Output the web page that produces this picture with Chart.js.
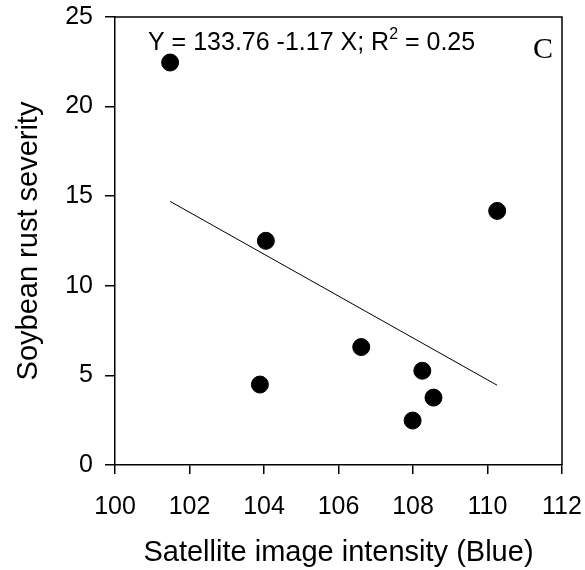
<!DOCTYPE html>
<html>
<head>
<meta charset="utf-8">
<script src="https://cdn.jsdelivr.net/npm/chart.js@4/dist/chart.umd.min.js"></script>
<style>
  html, body { margin: 0; padding: 0; background: #fff; }
  #wrap { width: 585px; height: 570px; }
</style>
</head>
<body>
<div id="wrap"><canvas id="myChart" width="585" height="570"></canvas></div>
<script>
// observed points
var intensity = [101.48, 104.05, 103.89, 106.61, 108.25, 108.55, 107.99, 110.26];
var severity = [22.46, 12.51, 4.49, 6.58, 5.26, 3.76, 2.48, 14.18];
// fitted line ends
var fitX = [101.48, 110.26];
var fitY = [14.71, 4.45];
// axis ticks
var xTicks = [100, 102, 104, 106, 108, 110, 112];
var yTicks = [0, 5, 10, 15, 20, 25];

var equation = "Y = 133.76 -1.17 X; R";
var eqEnd = " = 0.25";
var panel = "C";

function pairs(xs, ys){
    var out = [];
    for(var i = 0; i < xs.length; i++){
        out.push({x: xs[i], y: ys[i]});
    }
    return out;
}

// box around plot + text in the corner
var boxPlugin = {
    id: "boxText",
    afterDraw: function(chart){
        var ctx = chart.ctx;
        var a = chart.chartArea;
        ctx.save();
        ctx.strokeStyle = "#000";
        ctx.lineWidth = 1.5;
        ctx.beginPath();
        ctx.moveTo(a.left, a.top);
        ctx.lineTo(a.right, a.top);
        ctx.lineTo(a.right, a.bottom);
        ctx.stroke();

        ctx.fillStyle = "#000";
        ctx.textBaseline = "alphabetic";
        ctx.font = "25px 'Liberation Sans', Arial, sans-serif";
        var x = a.left + 33;
        var y = a.top + 33;
        ctx.fillText(equation, x, y);
        x += ctx.measureText(equation).width;
        ctx.font = "16px 'Liberation Sans', Arial, sans-serif";
        ctx.fillText("2", x, y - 11);
        x += ctx.measureText("2").width;
        ctx.font = "25px 'Liberation Sans', Arial, sans-serif";
        ctx.fillText(eqEnd, x, y);

        ctx.font = "30px 'Liberation Serif', 'Times New Roman', serif";
        ctx.fillText(panel, a.right - 29, a.top + 41);
        ctx.restore();
    }
};

var ctx = document.getElementById("myChart").getContext("2d");
var myChart = new Chart(ctx, {
    type: "scatter",
    data: {
        datasets: [{
            data: pairs(intensity, severity),
            backgroundColor: "#000",
            borderColor: "#000",
            pointRadius: 8.5,
            pointHoverRadius: 8.5
        }, {
            type: "line",
            data: pairs(fitX, fitY),
            borderColor: "#000",
            borderWidth: 1,
            pointRadius: 0,
            fill: false
        }]
    },
    options: {
        responsive: false,
        animation: false,
        layout: {
            padding: {top: 17, right: 23, left: 12, bottom: 0}
        },
        plugins: {
            legend: {display: false},
            tooltip: {enabled: false}
        },
        scales: {
            x: {
                type: "linear",
                min: 100,
                max: 112,
                afterBuildTicks: function(scale){
                    scale.ticks = xTicks.map(function(v){ return {value: v}; });
                },
                afterFit: function(scale){
                    scale.height = 105;
                    scale.paddingLeft = 0;
                    scale.paddingRight = 0;
                },
                grid: {
                    display: true,
                    drawOnChartArea: false,
                    drawTicks: true,
                    tickLength: 9,
                    color: "#000",
                    lineWidth: 1.5
                },
                border: {display: true, color: "#000", width: 1.5},
                ticks: {
                    color: "#000",
                    padding: 18,
                    font: {family: "'Liberation Sans', Arial, sans-serif", size: 25}
                },
                title: {
                    display: true,
                    text: "Satellite image intensity (Blue)",
                    color: "#000",
                    padding: 0,
                    font: {family: "'Liberation Sans', Arial, sans-serif", size: 29}
                }
            },
            y: {
                type: "linear",
                min: 0,
                max: 25,
                afterBuildTicks: function(scale){
                    scale.ticks = yTicks.map(function(v){ return {value: v}; });
                },
                afterFit: function(scale){
                    scale.width = 103;
                    scale.paddingTop = 0;
                    scale.paddingBottom = 0;
                },
                grid: {
                    display: true,
                    drawOnChartArea: false,
                    drawTicks: true,
                    tickLength: 10,
                    color: "#000",
                    lineWidth: 1.5
                },
                border: {display: true, color: "#000", width: 1.5},
                ticks: {
                    color: "#000",
                    padding: 12,
                    font: {family: "'Liberation Sans', Arial, sans-serif", size: 25}
                },
                title: {
                    display: true,
                    text: "Soybean rust severity",
                    color: "#000",
                    padding: 0,
                    font: {family: "'Liberation Sans', Arial, sans-serif", size: 29}
                }
            }
        }
    },
    plugins: [boxPlugin]
});
</script>
</body>
</html>
